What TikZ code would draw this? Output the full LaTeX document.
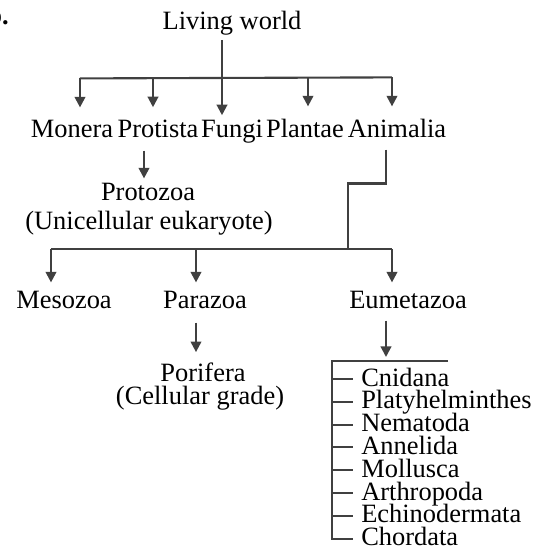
\documentclass[tikz,border=0pt]{standalone}
\usepackage{fontspec}
\setmainfont{Liberation Serif}
\usetikzlibrary{arrows.meta,positioning,calc}

\begin{document}
\begin{tikzpicture}[
  x=0.025cm,y=-0.025cm,
  font=\fontsize{18.8pt}{22pt}\selectfont,
  >={Triangle[width=7.5pt,length=7.5pt]},
  txt/.style={inner sep=0pt,anchor=base},
  link/.style={draw=black!75,line width=1.5pt},
  arr/.style={link,->}
]
\useasboundingbox (0,0) rectangle (539,549);
\node[txt,anchor=base east,font=\fontsize{18.8pt}{22pt}\selectfont\bfseries] (tag) at (9,24) {b.};

% kingdoms
\node[txt] (world) at (232,29) {Living world};
\node[txt] (monera) at (72,137) {Monera};
\node[txt] (protista) at (158,137) {Protista};
\node[txt] (fungi) at (232,137) {Fungi};
\node[txt] (plantae) at (305,137) {Plantae};
\node[txt] (animalia) at (397,137) {Animalia};
\node[txt] (protozoa) at (148,200) {Protozoa};
\node[txt] (unicell) at (149,229) {(Unicellular eukaryote)};

% animal grades
\node[txt] (mesozoa) at (64,308) {Mesozoa};
\node[txt] (parazoa) at (205,308) {Parazoa};
\node[txt] (eumetazoa) at (408,308) {Eumetazoa};
\node[txt] (porifera) at (203,381) {Porifera};
\node[txt] (cellular) at (200,404) {(Cellular grade)};

% phyla
\foreach \name [count=\i from 0] in {Cnidana,Platyhelminthes,Nematoda,Annelida,Mollusca,Arthropoda,Echinodermata,Chordata}
  \node[txt,anchor=base west] (phy\i) at (361,386+22.8*\i) {\name};

\coordinate (hub) at ($(world.south)+(-10,5)$);
\draw[arr] (hub) -- ($(hub |- fungi.north)+(0,-4)$);
\draw[link] ($(monera.north)+(8,-41)$) -- ($(animalia.north)+(-5,-41)$);
\foreach \n/\dx in {monera/8,protista/-5,plantae/3,animalia/-5}
  \draw[arr] ($(\n.north)+(\dx,-41)$) -- ($(\n.north)+(\dx,-12)$);
\draw[arr] ($(protozoa.north |- protista.south)+(-4,13)$) -- ($(protozoa.north)+(-4,-4)$);

\coordinate (hub2) at (348,250);
\draw[link] ($(animalia.south)+(-11,12)$) -- ++(0,34) -| (hub2);
\draw[link] ($(mesozoa.north)+(-13,-41)$) -- ($(eumetazoa.north)+(-16,-41)$);
\foreach \n/\dx in {mesozoa/-13,parazoa/-9,eumetazoa/-16}
  \draw[arr] ($(\n.north)+(\dx,-41)$) -- ($(\n.north)+(\dx,-8)$);
\draw[arr] ($(porifera.north |- parazoa.south)+(-7,14)$) -- ($(porifera.north)+(-7,-10)$);

\coordinate (brtop) at (332,361);
\draw[arr] ($(eumetazoa.south)+(-22,12)$) -- ($(eumetazoa.south |- brtop)+(-22,-4)$);
\draw[link] ($(brtop)+(116,0)$) -- (brtop) |- ($(phy7.base west)+(-8,-7)$);
\foreach \i in {0,...,6}
  \draw[link] ($(phy\i.base west)+(-29,-7)$) -- ($(phy\i.base west)+(-8,-7)$);
\end{tikzpicture}
\end{document}
